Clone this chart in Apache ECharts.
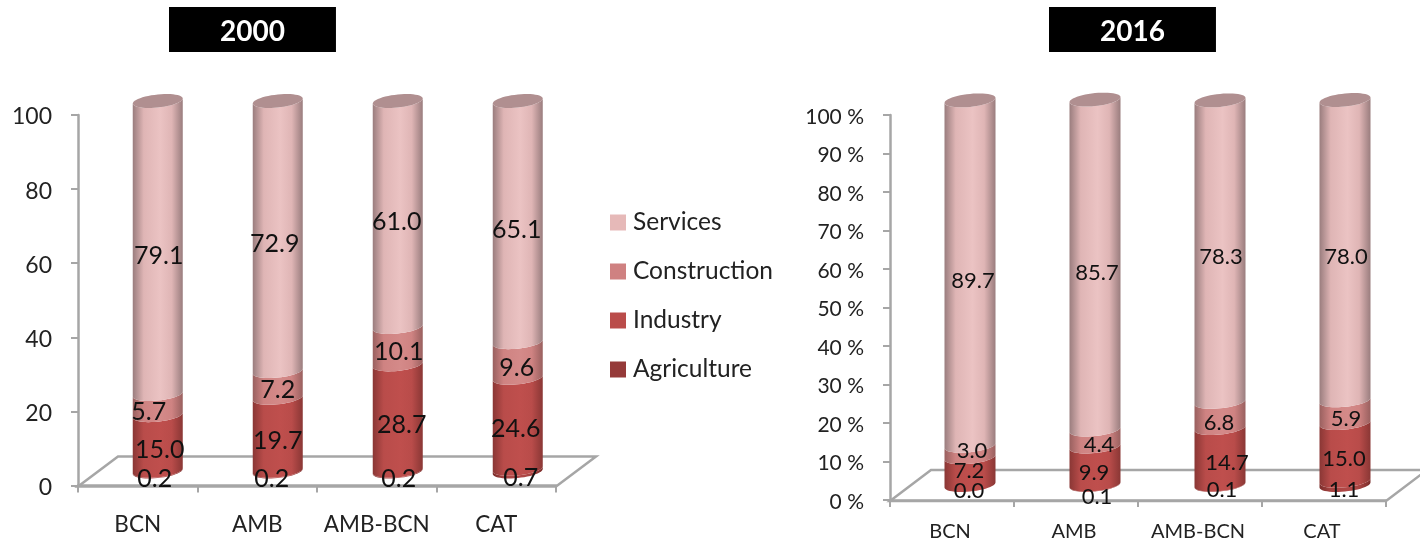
<!DOCTYPE html>
<html><head><meta charset="utf-8">
<script src="https://cdn.jsdelivr.net/npm/echarts@6/dist/echarts.min.js"></script>
<style>html,body{margin:0;padding:0;background:#fff}#c{width:1420px;height:544px}</style>
</head><body><div id="c"></div>
<script>
const categories = ['BCN', 'AMB', 'AMB-BCN', 'CAT'];
const seriesNames = ['Agriculture', 'Industry', 'Construction', 'Services'];
const agriculture2000 = [0.2, 0.2, 0.2, 0.7];
const industry2000 = [15.0, 19.7, 28.7, 24.6];
const construction2000 = [5.7, 7.2, 10.1, 9.6];
const services2000 = [79.1, 72.9, 61.0, 65.1];
const agriculture2016 = [0.0, 0.1, 0.1, 1.1];
const industry2016 = [7.2, 9.9, 14.7, 15.0];
const construction2016 = [3.0, 4.4, 6.8, 5.9];
const services2016 = [89.7, 85.7, 78.3, 78.0];

// Hand-placed label nudges (px) per series, per category: [dx, dy]
const labelNudge2000 = [
  [[-3,8],[-6,8],[1,8],[3,8]],
  [[2,7],[0,7],[4,7],[-2,6]],
  [[-9,7],[0,6],[1,6],[-1,8]],
  [[1,8],[-3,8],[-1,8],[-1,8]]
];
const labelNudge2016 = [
  [[-1,6],[2,12],[2,5],[-1,7]],
  [[-1,0],[-1,7],[7,7],[-1,7]],
  [[2,-1],[4,7],[-1,8],[1,7]],
  [[3,8],[2,8],[1,6],[1,7]]
];

const colors = {
  Agriculture: ['#7a2c2a', '#a84442', '#b04847'],
  Industry: ['#8a3735', '#b94c4a', '#bf4f4d'],
  Construction: ['#99605f', '#cf8382', '#d48a89'],
  Services: ['#9a7d7e', '#dfb5b5', '#ebc3c3']
};
const legendColors = { Agriculture: '#953a39', Industry: '#ba4c4a', Construction: '#cf8181', Services: '#e6b9b8' };
const FONT = 'Lato';

function cylinder(geom) {
  return function (params, api) {
    const cat = api.value(0), v0 = api.value(1), v1 = api.value(2), val = api.value(3);
    const nx = api.value(4), ny = api.value(5);
    const p0 = api.coord([cat, v0]), p1 = api.coord([cat, v1]);
    const cx = p0[0] + geom.dx + cat * geom.dxStep;
    const y0 = p0[1] + geom.dy, y1 = p1[1] + geom.dy;
    const pts = [];
    const N = 24;
    for (let i = 0; i <= N; i++) {
      const t = Math.PI * i / N;
      pts.push([cx + geom.rx * Math.cos(t), y0 + geom.ry * Math.sin(t) - geom.tilt * Math.cos(t)]);
    }
    for (let i = N; i >= 0; i--) {
      const t = Math.PI * i / N;
      pts.push([cx + geom.rx * Math.cos(t), y1 + geom.ry * Math.sin(t) - geom.tilt * Math.cos(t)]);
    }
    const c = colors[params.seriesName];
    const children = [{
      type: 'polygon', shape: { points: pts },
      style: { fill: { type: 'linear', x: 0, y: 0, x2: 1, y2: 0, colorStops: [
        { offset: 0, color: c[0] }, { offset: 0.22, color: c[1] }, { offset: 0.55, color: c[2] },
        { offset: 0.78, color: c[1] }, { offset: 1, color: c[0] }] } }
    }];
    if (params.seriesName === 'Services') {
      const cap = [];
      for (let i = 0; i < 48; i++) {
        const t = 2 * Math.PI * i / 48;
        cap.push([cx + geom.rx * Math.cos(t), y1 + geom.ry * Math.sin(t) - geom.tilt * Math.cos(t)]);
      }
      children.push({ type: 'polygon', shape: { points: cap }, style: { fill: '#b08f90' } });
    }
    const yMid = (p0[1] + p1[1]) / 2 + geom.dy;
    children.push({
      type: 'text', z2: 50,
      style: { text: val.toFixed(1), x: cx + nx, y: yMid + ny, fill: '#111', align: 'center', verticalAlign: 'middle',
        font: geom.labelFont }
    });
    return { type: 'group', children };
  };
}

function floorRender(geom) {
  return function (params) {
    const cs = params.coordSys;
    const b = cs.y + cs.height;
    return {
      type: 'polygon',
      shape: { points: [[cs.x, b + geom.fy], [cs.x + geom.fdx, b - geom.fdy], [cs.x + cs.width + geom.fdx, b - geom.fdy], [cs.x + cs.width, b + geom.fy]] },
      style: { fill: 'none', stroke: '#a6a6a6', lineWidth: 2.5 }
    };
  };
}

function buildSeries(idx, arrays, nudges, geom) {
  const out = [{
    type: 'custom', name: 'floor' + idx, xAxisIndex: idx, yAxisIndex: idx, z: 1, silent: true,
    renderItem: floorRender(geom), data: [[0, 0]], encode: { x: 0, y: 1 }
  }];
  const cum = categories.map(() => 0);
  arrays.forEach((arr, s) => {
    const data = arr.map((v, i) => {
      const row = [i, cum[i], cum[i] + v, v, nudges[s][i][0], nudges[s][i][1]];
      cum[i] += v;
      return row;
    });
    out.push({
      type: 'custom', name: seriesNames[s], xAxisIndex: idx, yAxisIndex: idx, z: 2, silent: true,
      itemStyle: { color: legendColors[seriesNames[s]] },
      renderItem: cylinder(geom), data, encode: { x: 0, y: [1, 2] }
    });
  });
  return out;
}

const geomL = { dx: 20, dxStep: 0.5, dy: -14, rx: 25, ry: 6.5, tilt: 2.5, fdx: 40, fdy: 29, fy: 1, labelFont: '25px ' + FONT };
const geomR = { dx: 18, dxStep: 1, dy: -15, rx: 25.5, ry: 6.5, tilt: 2.5, fdx: 41, fdy: 30, fy: 1, labelFont: '22px ' + FONT };

const axisLine = { lineStyle: { color: '#a6a6a6', width: 2.5 } };
const axisTick = { length: 7, lineStyle: { color: '#a6a6a6', width: 2 } };
const titleStyle = { color: '#fff', fontFamily: FONT, fontWeight: 'bold', fontSize: 28, lineHeight: 28 };

const option = {
  animation: false,
  backgroundColor: '#fff',
  title: [
    { text: '2000', left: 169, top: 7, backgroundColor: '#000', padding: [11, 51, 6, 51], textStyle: titleStyle },
    { text: '2016', left: 1049, top: 7, backgroundColor: '#000', padding: [11, 51, 6, 51], textStyle: titleStyle }
  ],
  legend: {
    orient: 'vertical', left: 610, top: 210, padding: 0, itemWidth: 16, itemHeight: 16, itemGap: 24, selectedMode: false,
    icon: 'rect', data: ['Services', 'Construction', 'Industry', 'Agriculture'],
    textStyle: { fontFamily: FONT, fontSize: 24.5, color: '#222', padding: [0, 0, 0, 2] }
  },
  grid: [
    { left: 78, top: 115, width: 478, height: 370.5 },
    { left: 890, top: 115, width: 496, height: 385 }
  ],
  xAxis: [0, 1].map(i => ({
    type: 'category', gridIndex: i, data: categories, boundaryGap: true,
    axisLine, axisTick: { ...axisTick, show: true, interval: 0 },
    axisLabel: { interval: 0, color: '#222', fontFamily: FONT, fontSize: i ? 20 : 22.5, margin: i ? 22 : 28, padding: i ? [0, 4, 0, 0] : 0 }
  })),
  yAxis: [
    { type: 'value', gridIndex: 0, min: 0, max: 100, interval: 20, axisLine: { show: true, ...axisLine }, axisTick: { show: true, ...axisTick }, splitLine: { show: false },
      axisLabel: { color: '#222', fontFamily: FONT, fontSize: 23, margin: 26, verticalAlign: 'top', lineHeight: 4 } },
    { type: 'value', gridIndex: 1, min: 0, max: 100, interval: 10, axisLine: { show: true, ...axisLine }, axisTick: { show: true, ...axisTick }, splitLine: { show: false },
      axisLabel: { color: '#222', fontFamily: FONT, fontSize: 21, margin: 26, verticalAlign: 'top', lineHeight: 4, formatter: '{value} %' } }
  ],
  series: [
    ...buildSeries(0, [agriculture2000, industry2000, construction2000, services2000], labelNudge2000, geomL),
    ...buildSeries(1, [agriculture2016, industry2016, construction2016, services2016], labelNudge2016, geomR)
  ]
};
const chart = echarts.init(document.getElementById('c'), null, { renderer: 'canvas' });
chart.setOption(option);
</script>
</body></html>
